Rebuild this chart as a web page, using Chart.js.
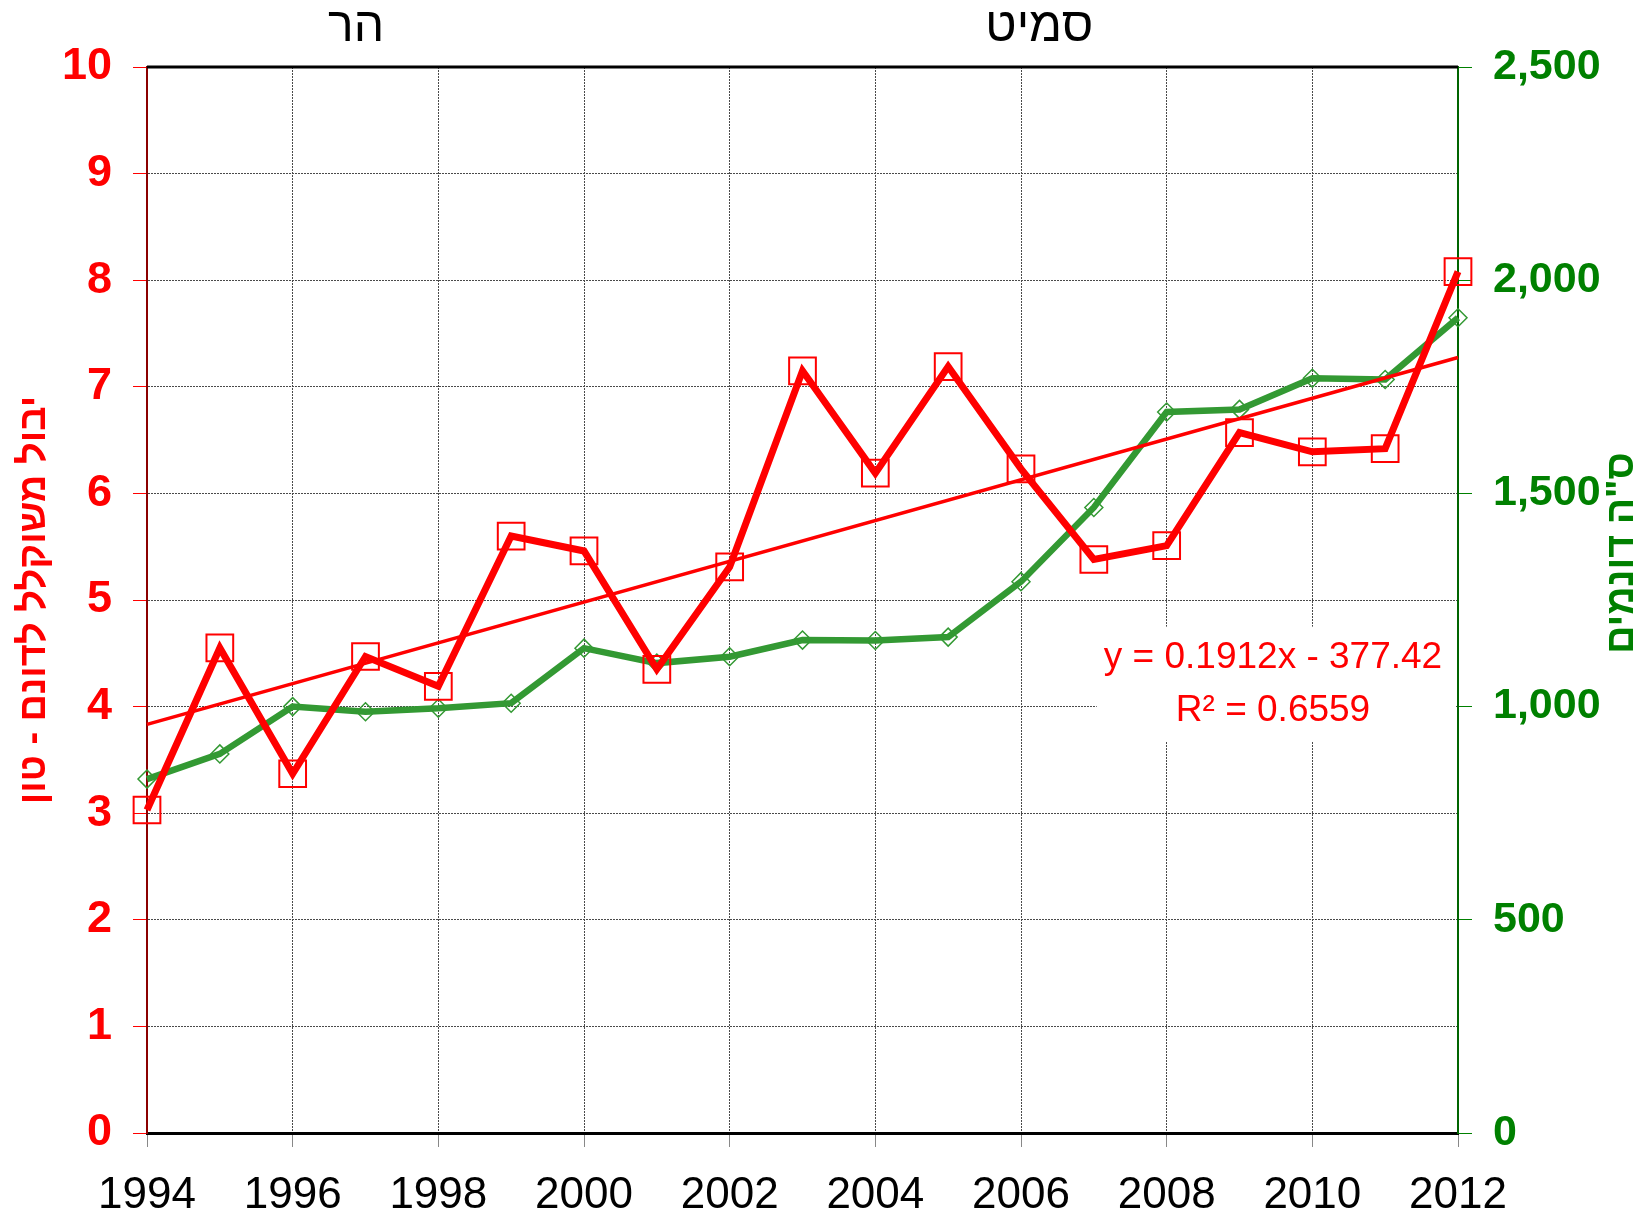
<!DOCTYPE html>
<html>
<head>
<meta charset="utf-8">
<script src="https://cdn.jsdelivr.net/npm/chart.js"></script>
<style>
  html, body { margin: 0; padding: 0; background: #fff; }
  #wrap { width: 1642px; height: 1217px; }
</style>
</head>
<body>
<div id="wrap"><canvas id="yieldChart"></canvas></div>
<script>

// years of the series
const years = [1994, 1995, 1996, 1997, 1998, 1999, 2000, 2001, 2002, 2003,
               2004, 2005, 2006, 2007, 2008, 2009, 2010, 2011, 2012];

// weighted yield per dunam (tons) - left axis
const yieldPerDunam = [3.03, 4.55, 3.37, 4.47, 4.19, 5.60, 5.46, 4.35, 5.31, 7.15,
                       6.19, 7.19, 6.23, 5.38, 5.51, 6.57, 6.39, 6.42, 8.08];

// total dunams - right axis
const totalDunams = [830, 889, 1000, 988, 996, 1008, 1137, 1102, 1117, 1156,
                     1155, 1163, 1293, 1467, 1691, 1697, 1770, 1767, 1912];

// linear trend shown on the chart
const trendSlope = 0.1912;
const trendIntercept = -377.42;
const trendR2 = 0.6559;

// texts
const regionLabels = ['הר', 'סמיט'];
const leftTitle = 'יבול משוקלל לדונם - טון';
const rightTitle = 'ס"ה דונמים';

const FONT = "'Liberation Sans', Arial, 'DejaVu Sans', sans-serif";
const RED = '#FF0000';
const GREEN_TEXT = '#008000';
const GREEN_LINE = '#339933';

Chart.defaults.font.family = FONT;

const trendStart = years[0], trendEnd = years[years.length - 1];

// extra drawing: top border, region names, right title, equation box
const decorations = {
  id: 'decorations',
  beforeDatasetsDraw(chart) {
    const {ctx, chartArea: a, scales: {x, y}} = chart;
    const bx0 = x.getPixelForValue(2007.04);
    const by0 = y.getPixelForValue(4.75);
    const by1 = y.getPixelForValue(3.67);
    ctx.save();
    ctx.fillStyle = '#fff';
    ctx.fillRect(bx0, by0, a.right - 2 - bx0, by1 - by0);
    // top border of plot
    ctx.strokeStyle = '#000';
    ctx.lineWidth = 3;
    ctx.beginPath();
    ctx.moveTo(a.left, a.top);
    ctx.lineTo(a.right, a.top);
    ctx.stroke();
    ctx.restore();
  },
  afterDraw(chart) {
    const {ctx, chartArea: a, scales: {x, y, y2}} = chart;
    ctx.save();
    // region names above the plot
    ctx.fillStyle = '#000';
    ctx.font = '48px ' + FONT;
    ctx.textAlign = 'center';
    ctx.textBaseline = 'middle';
    ctx.fillText(regionLabels[0], x.getPixelForValue(1996.87), a.top - 39);
    ctx.fillText(regionLabels[1], x.getPixelForValue(2006.25), a.top - 39);

    // trend equation
    ctx.fillStyle = RED;
    ctx.font = '37px ' + FONT;
    const ex = x.getPixelForValue(2009.46);
    const slopeTxt = 'y = ' + trendSlope + 'x - ' + Math.abs(trendIntercept);
    ctx.fillText(slopeTxt, ex, y.getPixelForValue(4.46));
    ctx.fillText('R² = ' + trendR2, ex, y.getPixelForValue(3.96));

    // right axis title (reads bottom to top)
    ctx.fillStyle = GREEN_TEXT;
    ctx.font = 'bold 39px ' + FONT;
    ctx.translate(y2.right - 20, (a.top + a.bottom) / 2 - 47);
    ctx.rotate(-Math.PI / 2);
    ctx.fillText(rightTitle, 0, 0);
    ctx.restore();
  }
};

new Chart(document.getElementById('yieldChart'), {
  type: 'line',
  data: {
    datasets: [
      {
        label: leftTitle,
        data: years.map((yr, i) => ({x: yr, y: yieldPerDunam[i]})),
        yAxisID: 'y',
        borderColor: RED,
        borderWidth: 7,
        pointStyle: 'rect',
        pointRadius: 18.9,
        pointBorderWidth: 2,
        pointBorderColor: RED,
        pointBackgroundColor: 'rgba(0,0,0,0)',
        clip: false
      },
      {
        label: 'trend',
        data: [
          {x: trendStart, y: trendSlope * trendStart + trendIntercept},
          {x: trendEnd, y: trendSlope * trendEnd + trendIntercept}
        ],
        yAxisID: 'y',
        borderColor: RED,
        borderWidth: 3.5,
        pointRadius: 0,
        clip: false
      },
      {
        label: rightTitle,
        data: years.map((yr, i) => ({x: yr, y: totalDunams[i]})),
        yAxisID: 'y2',
        borderColor: GREEN_LINE,
        borderWidth: 6.5,
        pointStyle: 'rectRot',
        pointRadius: 9,
        pointBorderWidth: 1.5,
        pointBorderColor: GREEN_LINE,
        pointBackgroundColor: 'rgba(0,0,0,0)',
        clip: false
      }
    ]
  },
  options: {
    responsive: true,
    maintainAspectRatio: false,
    animation: false,
    locale: 'en-US',
    layout: { autoPadding: false, padding: { top: 67, left: 0, right: 0, bottom: 0 } },
    plugins: {
      legend: { display: false },
      tooltip: { enabled: false }
    },
    scales: {
      x: {
        type: 'linear',
        min: 1994,
        max: 2012,
        afterFit: s => { s.height = 84; },
        ticks: {
          stepSize: 2,
          autoSkip: false,
          maxRotation: 0,
          padding: 22,
          color: '#000',
          font: { size: 44 },
          callback: v => String(v)
        },
        grid: { color: '#4a4a4a', lineWidth: 1, tickColor: '#888', tickLength: 14 },
        border: { display: true, color: '#000', width: 3, dash: [2, 1] }
      },
      y: {
        position: 'left',
        min: 0,
        max: 10,
        afterFit: s => { s.width = 147; },
        ticks: { stepSize: 1, padding: 21, color: RED, font: { size: 45, weight: 'bold' } },
        grid: { color: '#4a4a4a', lineWidth: 1, tickColor: RED, tickLength: 14 },
        border: { display: true, color: '#8B0000', width: 2, dash: [2, 1] },
        title: {
          display: true,
          text: leftTitle,
          color: RED,
          font: { size: 38, weight: 'bold' },
          padding: { top: 12, bottom: 0 }
        }
      },
      y2: {
        position: 'right',
        min: 0,
        max: 2500,
        afterFit: s => { s.width = 184; },
        ticks: { stepSize: 500, padding: 21, color: GREEN_TEXT, font: { size: 43, weight: 'bold' } },
        grid: { drawOnChartArea: false, tickColor: GREEN_TEXT, tickLength: 14 },
        border: { display: true, color: '#006400', width: 2 }
      }
    }
  },
  plugins: [decorations]
});
</script>
</body>
</html>
